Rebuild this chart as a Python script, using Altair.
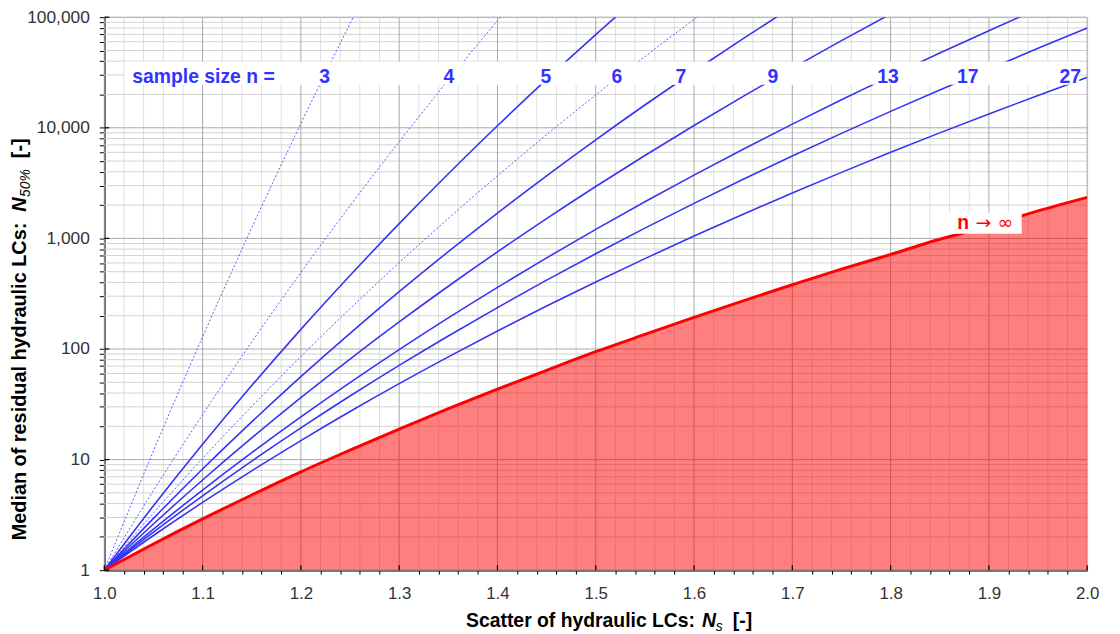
import altair as alt
import pandas as pd

# ---------------- data ----------------
NS = [1.00, 1.05, 1.10, 1.15, 1.20, 1.25, 1.30, 1.35, 1.40, 1.45, 1.50,
      1.55, 1.60, 1.65, 1.70, 1.75, 1.80, 1.85, 1.90, 1.95, 2.00]

N3 = [1, 12.0, 129, 1246, 10920, 87600, 647000]
N4 = [1, 5.25, 25.5, 115.8, 492, 1972, 7480, 27000, 93000, 306600]
N5 = [1, 3.82, 13.75, 46.7, 150.5, 462, 1359, 3839, 10430, 27390, 69580, 171400]
N6 = [1, 3.29, 10.23, 30.3, 85.5, 231.5, 603, 1514, 3677, 8659, 19800, 44070, 95600, 202600]
N7 = [1, 2.94, 8.22, 21.94, 56.2, 138.6, 329.7, 759, 1696, 3683, 7791, 16080, 32440,
      64030, 123900]
N9 = [1, 2.615, 6.54, 15.70, 36.3, 81.1, 175.7, 369.4, 756, 1510, 2944, 5617, 10500,
      19250, 34660, 61350, 106900]
N13 = [1, 2.349, 5.30, 11.54, 24.31, 49.65, 98.6, 190.9, 360.7, 666.6, 1207, 2142, 3734,
       6397, 10790, 17920, 29340, 47370, 75530, 119000]
N17 = [1, 2.21, 4.706, 9.69, 19.35, 37.56, 71.06, 131.2, 236.9, 419, 726.9, 1239, 2075,
       3421, 5557, 8900, 14070, 21950, 33870, 52300, 80000]
N27 = [1, 2.059, 4.099, 7.911, 14.86, 27.19, 48.58, 84.9, 145.4, 244.5, 403.7, 656, 1050,
       1655, 2574, 3954, 5998, 8996, 13350, 19610, 28520]
NINF = [1, 1.727, 2.908, 4.785, 7.75, 12.17, 18.89, 28.83, 43.3, 64.2, 94.5, 135.4, 193,
        272.8, 381, 527, 715, 982, 1290, 1772, 2352]

DASHED_SERIES = {"3": N3, "4": N4, "6": N6}
SOLID_SERIES = {"5": N5, "7": N7, "9": N9, "13": N13, "17": N17, "27": N27}

LABELS = ["3", "4", "5", "6", "7", "9", "13", "17", "27"]
LABEL_NS = [1.2241, 1.3505, 1.4493, 1.5216, 1.5865, 1.6803, 1.7973, 1.8786, 1.9828]
LABEL_N = 25400

X_TICKS = [round(1 + 0.02 * i, 2) for i in range(51)]
X_MAJOR = [round(1 + 0.1 * i, 1) for i in range(11)]
X_MINOR = [v for v in X_TICKS if v not in X_MAJOR]
Y_MAJOR = [1, 10, 100, 1000, 10000, 100000]
Y_TICKS = [m * 10 ** k for k in range(5) for m in range(1, 10)] + [100000]
Y_MINOR = [v for v in Y_TICKS if v not in Y_MAJOR]

# ---------------- styling ----------------
W, H = 990, 557
FONT = "Liberation Sans"
BLUE = "#3434F5"
BLUE_TXT = "#3333FF"
RED = "#FF0000"

xs = alt.Scale(domain=[1, 2], nice=False, zero=False)
ys = alt.Scale(type="log", domain=[1, 100000], nice=False)

MAJOR_TEST = "abs(datum.value*10 - round(datum.value*10)) < 0.001"

x_axis = alt.Axis(
    values=X_TICKS,
    labelExpr=MAJOR_TEST + " ? format(datum.value, '.1f') : ''",
    tickSize=4, tickWidth=1,
    tickColor={"condition": {"test": MAJOR_TEST, "value": "transparent"}, "value": "#000000"},
    domainColor="#000000", domainWidth=1.5,
    labelFont=FONT, labelFontSize=17, labelColor="#333333", labelPadding=12,
    labelFlush=False, labelOverlap=False, grid=False, title=None,
)
y_axis = alt.Axis(
    values=Y_TICKS,
    labelExpr="indexof([1,10,100,1000,10000,100000], datum.value) >= 0 ? format(datum.value, ',') : ''",
    tickSize=5, tickWidth=1, tickColor="#000000",
    domainColor="#000000", domainWidth=1.5,
    labelFont=FONT, labelFontSize=17.5, labelColor="#333333", labelPadding=10,
    labelFlush=False, labelOverlap=False, grid=False, title=None,
)


def X(field):
    return alt.X(field, scale=xs, axis=x_axis)


def Y(field):
    return alt.Y(field, scale=ys, axis=y_axis)


def long_df(series):
    rows = []
    for name, vals in series.items():
        for x, v in zip(NS, vals):
            rows.append({"Ns": x, "N": v, "n": name})
    return pd.DataFrame(rows)


# grid
gx_minor = alt.Chart(pd.DataFrame({"Ns": X_MINOR})).mark_rule(color="#DEDEDE", strokeWidth=1).encode(
    x=X("Ns:Q"))
gy_minor = alt.Chart(pd.DataFrame({"N": Y_MINOR})).mark_rule(color="#D2D2D2", strokeWidth=1).encode(
    y=Y("N:Q"))
gx_major = alt.Chart(pd.DataFrame({"Ns": X_MAJOR})).mark_rule(color="#A8A8A8", strokeWidth=1).encode(
    x=X("Ns:Q"))
gy_major = alt.Chart(pd.DataFrame({"N": Y_MAJOR})).mark_rule(color="#A8A8A8", strokeWidth=1).encode(
    y=Y("N:Q"))

inf_df = pd.DataFrame({"Ns": NS, "N": NINF})
area = alt.Chart(inf_df).mark_area(color=RED, opacity=0.5, clip=True, interpolate="monotone").encode(
    x=X("Ns:Q"), y=Y("N:Q"), y2=alt.datum(1),
)

dashed = alt.Chart(long_df(DASHED_SERIES)).mark_line(
    color="#5A5AFF", strokeWidth=1, strokeDash=[2, 2], clip=True, interpolate="monotone").encode(
    x=X("Ns:Q"), y=Y("N:Q"), detail="n:N",
)
solid = alt.Chart(long_df(SOLID_SERIES)).mark_line(
    color=BLUE, strokeWidth=1.6, clip=True, interpolate="monotone").encode(
    x=X("Ns:Q"), y=Y("N:Q"), detail="n:N",
)
red_line = alt.Chart(inf_df).mark_line(color=RED, strokeWidth=3, clip=True, interpolate="monotone").encode(
    x=X("Ns:Q"), y=Y("N:Q"),
)

# white label band and box
band = alt.Chart(pd.DataFrame({"x1": [1.0207], "x2": [1.992], "y1": [39800], "y2": [24550]})).mark_rect(
    color="white").encode(x=X("x1:Q"), x2="x2:Q", y=Y("y1:Q"), y2="y2:Q")
box = alt.Chart(pd.DataFrame({"x1": [1.8595], "x2": [1.9334], "y1": [1703], "y2": [1103]})).mark_rect(
    color="white").encode(x=X("x1:Q"), x2="x2:Q", y=Y("y1:Q"), y2="y2:Q")

labels = alt.Chart(pd.DataFrame({"Ns": LABEL_NS, "N": [LABEL_N] * len(LABELS), "t": LABELS})).mark_text(
    align="center", baseline="alphabetic", font=FONT, fontSize=19.5, fontWeight="bold", color=BLUE_TXT
).encode(x=X("Ns:Q"), y=Y("N:Q"), text="t:N")
sample = alt.Chart(pd.DataFrame({"Ns": [1.1009], "N": [LABEL_N], "t": ["sample size n ="]})).mark_text(
    align="center", baseline="alphabetic", font=FONT, fontSize=19.5, fontWeight="bold", color=BLUE_TXT
).encode(x=X("Ns:Q"), y=Y("N:Q"), text="t:N")
inf_n = alt.Chart(pd.DataFrame({"Ns": [1.8679], "N": [1228], "t": ["n"]})).mark_text(
    align="left", baseline="alphabetic", font=FONT, fontSize=19.5, fontWeight="bold", color=RED
).encode(x=X("Ns:Q"), y=Y("N:Q"), text="t:N")
inf_sym = alt.Chart(pd.DataFrame({"Ns": [1.8865], "N": [1228], "t": ["\u2192 \u221e"]})).mark_text(
    align="left", baseline="alphabetic", font="DejaVu Sans", fontSize=19, color=RED
).encode(x=X("Ns:Q"), y=Y("N:Q"), text="t:N")

# inward major ticks
tick_x = alt.Chart(pd.DataFrame({"Ns": X_MAJOR})).mark_rule(color="#000000", strokeWidth=1.2).encode(
    x=X("Ns:Q"), y=alt.value(H - 5), y2=alt.value(H))
tick_y = alt.Chart(pd.DataFrame({"N": Y_MAJOR})).mark_rule(color="#000000", strokeWidth=1.2).encode(
    y=Y("N:Q"), x=alt.value(0), x2=alt.value(5))


def piece(text, x, y, size=19.5, weight="bold", style="normal", angle=0, align="left"):
    return alt.Chart(pd.DataFrame({"t": [text]})).mark_text(
        align=align, baseline="alphabetic", font=FONT, fontSize=size, fontWeight=weight,
        fontStyle=style, angle=angle, color="#000000"
    ).encode(text="t:N", x=alt.value(x), y=alt.value(y))


XT_BASE = 614
x_title = [
    piece("Scatter of hydraulic LCs:", 595, XT_BASE, align="right"),
    piece("N", 602, XT_BASE, style="italic"),
    piece("s", 616, XT_BASE + 4, size=14, weight="normal", style="italic"),
    piece("[-]", 633, XT_BASE),
]
YT_BASE = -79
y_title = [
    piece("Median of residual hydraulic LCs:", YT_BASE, 207, size=20, angle=270, align="right"),
    piece("N", YT_BASE, 196, size=20, angle=270, style="italic"),
    piece("50%", YT_BASE + 4, 181, size=14, weight="normal", style="italic", angle=270),
    piece("[-]", YT_BASE, 142, size=20, angle=270),
]

chart = alt.layer(
    gx_minor, gy_minor, gx_major, gy_major, area, dashed, solid, red_line,
    band, box, labels, sample, inf_n, inf_sym, tick_x, tick_y, *x_title, *y_title
).properties(
    width=W, height=H,
    autosize=alt.AutoSizeParams(type="none"),
    padding={"left": 97, "top": 7, "right": 25, "bottom": 62},
).configure_view(stroke="#8C8C8C", strokeWidth=1).configure(font=FONT)

chart.save("out.html", embed_options={"renderer": "svg", "actions": False})
